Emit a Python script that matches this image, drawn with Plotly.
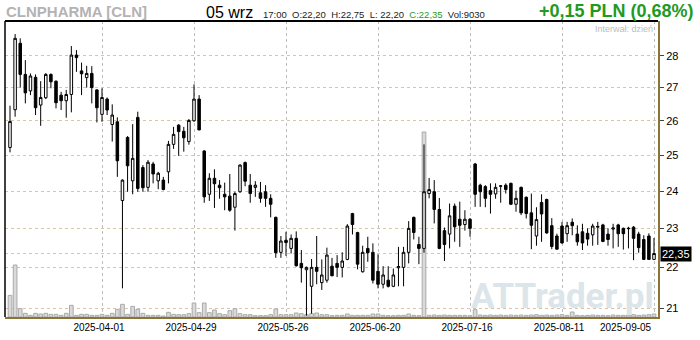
import math
import pandas as pd
import plotly.graph_objects as go

# ---------------- data ----------------
holidays = ["2025-04-18", "2025-04-21", "2025-05-01", "2025-06-19", "2025-08-15"]
dates = [d.strftime("%Y-%m-%d") for d in pd.bdate_range("2025-03-06", "2025-09-05")
         if d.strftime("%Y-%m-%d") not in holidays]

opens = [
    25.22, 26.33, 28.40, 27.41, 26.90, 27.32, 26.47, 26.69, 27.41, 27.20,
    26.77, 26.60, 26.79, 28.02, 27.52, 27.31, 27.44, 26.93, 26.19, 26.65,
    25.89, 25.97, 23.74, 25.51, 24.28, 26.10, 24.65, 24.10, 24.75, 24.28,
    24.30, 24.53, 25.31, 25.87, 25.69, 25.39, 26.00, 26.65, 25.12, 23.91,
    24.35, 24.16, 23.91, 23.86, 23.56, 23.98, 24.79, 24.16, 24.10, 23.95,
    23.98, 23.80, 23.29, 22.38, 22.69, 22.48, 22.74, 22.10, 21.94, 21.53,
    22.00, 21.62, 21.68, 22.03, 22.10, 22.00, 22.20, 23.39, 22.89, 21.89,
    22.48, 22.38, 21.90, 21.58, 21.68, 21.53, 21.99, 22.00, 22.38, 23.29,
    22.58, 22.48, 23.93, 23.98, 23.50, 22.94, 22.85, 23.59, 23.24, 23.10,
    23.24, 24.75, 24.16, 24.12, 24.01, 23.92, 24.13, 24.16, 24.21, 23.64,
    24.10, 23.83, 23.41, 22.80, 23.69, 23.77, 23.07, 22.80, 23.06, 22.86,
    23.16, 22.85, 22.91, 22.87, 22.83, 23.03, 23.09, 22.85, 22.98, 23.09,
    23.00, 22.99, 23.03, 22.85, 22.71, 22.80, 22.20]
highs = [
    26.45, 28.70, 28.56, 27.86, 27.44, 27.41, 27.20, 27.45, 27.44, 27.22,
    26.87, 26.93, 28.31, 28.18, 27.78, 27.68, 27.67, 26.95, 26.98, 26.70,
    26.49, 26.10, 24.32, 25.55, 25.90, 26.27, 24.72, 24.86, 24.81, 24.53,
    24.39, 25.41, 25.82, 25.90, 25.82, 26.05, 27.10, 26.77, 25.14, 24.49,
    24.60, 24.30, 24.23, 24.47, 23.98, 24.74, 24.82, 24.47, 24.27, 24.25,
    24.16, 23.91, 23.31, 22.80, 22.91, 22.84, 22.92, 22.44, 22.02, 22.21,
    22.80, 22.20, 22.50, 22.24, 22.31, 22.38, 23.11, 23.41, 22.91, 22.55,
    22.78, 22.61, 22.33, 22.03, 22.03, 21.97, 22.52, 22.52, 23.19, 23.31,
    22.78, 25.31, 24.36, 24.30, 23.81, 23.02, 23.66, 23.66, 23.71, 23.48,
    23.27, 24.78, 24.20, 24.16, 24.21, 24.21, 24.16, 24.21, 24.23, 24.01,
    24.12, 23.85, 23.93, 23.56, 23.91, 23.79, 23.27, 22.86, 23.17, 23.17,
    23.26, 23.08, 23.12, 23.00, 23.12, 23.17, 23.12, 23.00, 23.12, 23.12,
    23.02, 23.04, 23.06, 22.91, 22.82, 22.87, 22.75]
lows = [
    25.08, 26.12, 27.00, 26.52, 26.77, 26.17, 25.85, 26.65, 26.98, 26.37,
    26.32, 26.09, 26.25, 27.49, 26.77, 27.00, 26.52, 25.95, 25.97, 26.17,
    25.39, 24.39, 21.48, 23.98, 23.91, 23.98, 23.98, 23.98, 24.21, 24.05,
    24.02, 24.21, 25.18, 24.98, 25.10, 25.30, 25.97, 25.72, 23.68, 23.73,
    23.54, 23.79, 23.48, 23.44, 22.94, 23.95, 24.13, 23.68, 23.84, 23.68,
    23.57, 23.29, 22.24, 22.24, 22.29, 22.35, 22.02, 21.62, 20.82, 20.87,
    21.58, 21.44, 21.62, 21.78, 21.76, 21.75, 22.18, 22.84, 21.95, 21.87,
    22.14, 21.60, 21.48, 21.48, 21.50, 21.51, 21.53, 21.53, 22.10, 22.71,
    22.08, 22.37, 23.80, 23.13, 22.46, 22.16, 22.48, 22.65, 22.52, 22.94,
    22.78, 23.57, 23.57, 23.56, 23.39, 23.79, 23.68, 23.93, 23.62, 23.44,
    23.35, 23.26, 22.46, 22.55, 22.65, 22.86, 22.46, 22.46, 22.60, 22.65,
    22.82, 22.55, 22.44, 22.55, 22.55, 22.57, 22.64, 22.55, 22.48, 22.52,
    22.45, 22.48, 22.18, 22.37, 22.20, 22.20, 22.20]
closes = [
    25.98, 28.56, 27.41, 26.84, 27.36, 26.39, 26.70, 27.41, 27.18, 26.54,
    26.60, 26.79, 28.02, 27.94, 27.43, 27.44, 27.00, 26.39, 26.70, 26.32,
    26.17, 24.84, 24.30, 24.70, 24.91, 24.07, 24.09, 24.80, 24.47, 24.49,
    24.04, 25.31, 25.60, 25.68, 25.50, 26.01, 26.65, 25.73, 23.84, 24.35,
    24.20, 24.09, 23.84, 23.48, 23.93, 24.72, 24.27, 23.93, 24.16, 23.80,
    23.80, 23.64, 22.37, 22.67, 22.63, 22.74, 22.04, 21.99, 22.00, 22.00,
    21.90, 21.81, 22.31, 21.79, 22.00, 22.16, 23.06, 23.10, 22.08, 22.38,
    22.37, 21.68, 21.58, 21.81, 21.53, 21.81, 22.02, 22.38, 23.00, 22.89,
    22.48, 23.98, 24.04, 23.50, 22.48, 22.58, 23.33, 23.04, 23.08, 23.24,
    23.00, 23.91, 23.98, 23.80, 23.91, 24.10, 24.14, 24.04, 23.64, 23.80,
    23.41, 23.39, 23.08, 23.23, 23.38, 22.88, 22.53, 22.46, 22.62, 23.07,
    23.07, 22.65, 22.62, 22.72, 23.06, 23.05, 22.66, 22.71, 23.01, 22.86,
    22.86, 23.00, 22.74, 22.50, 22.20, 22.20, 22.35]
volumes = [
    65000, 156000, 25000, 11000, 5000, 11000, 9000, 11000, 8000, 8000,
    5000, 11000, 35000, 5000, 8000, 8000, 5000, 5000, 8000, 5000,
    11000, 23000, 38000, 8000, 32000, 23000, 11000, 5000, 5000, 5000,
    3000, 14000, 8000, 7000, 7000, 10000, 42000, 13000, 42000, 13000,
    21000, 10000, 7000, 19000, 25000, 10000, 7000, 7000, 4000, 4000,
    4000, 7000, 24000, 7000, 7000, 7000, 12000, 10000, 7000, 10000,
    12000, 7000, 7000, 4000, 5000, 5000, 9000, 5000, 5000, 5000,
    5000, 9000, 9000, 5000, 4000, 4000, 5000, 5000, 9000, 5000,
    4000, 555000, 5000, 6000, 5000, 6000, 5000, 5000, 5000, 5000,
    4000, 22000, 6000, 5000, 6000, 5000, 6000, 5000, 6000, 5000,
    6000, 5000, 6000, 7000, 5000, 6000, 5000, 6000, 7000, 5000,
    15000, 5000, 4000, 5000, 6000, 5000, 5000, 4000, 6000, 5000,
    5000, 6000, 7000, 5000, 6000, 7000, 9030]

tick_dates = ["2025-04-01", "2025-04-29", "2025-05-26", "2025-06-20",
              "2025-07-16", "2025-08-11", "2025-09-05"]
price_ticks = [21, 22, 23, 24, 25, 26, 27, 28]
last_close = 22.35
last_close_label = "22,35"

assert len(dates) == len(opens) == len(highs) == len(lows) == len(closes) == len(volumes) == 127

# ---------------- styling ----------------
OLIVE = "#8a7436"
GREEN = "#1f9a22"
FONT = "Liberation Sans"

fig = go.Figure()

fig.add_trace(go.Bar(
    x=dates, y=volumes, yaxis="y", width=0.72,
    marker=dict(color="#dadada", line=dict(color="#a9a9a9", width=1)),
    showlegend=False, hoverinfo="skip"))

fig.add_trace(go.Candlestick(
    x=dates, open=opens, high=highs, low=lows, close=closes, yaxis="y2",
    increasing=dict(fillcolor="#ffffff", line=dict(color="#000000", width=1)),
    decreasing=dict(fillcolor="#000000", line=dict(color="#000000", width=1)),
    whiskerwidth=0, showlegend=False))

n = len(dates)
fig.update_layout(
    width=700, height=340, autosize=False,
    margin=dict(l=5, r=42, t=21, b=23, pad=0),
    paper_bgcolor="white", plot_bgcolor="white",
    showlegend=False,
    bargap=0.3,
    xaxis=dict(
        type="category", range=[-0.98, n - 1 + 0.78],
        rangeslider=dict(visible=False),
        tickvals=tick_dates, ticktext=tick_dates[:-1] + [""],
        showgrid=True, gridcolor="#bdbdbd", griddash="dot", gridwidth=1,
        ticks="", showline=True, linecolor=OLIVE, linewidth=2,
        ticklabelshift=-3,
        tickfont=dict(family=FONT, size=10, color="#000"),
        zeroline=False),
    yaxis=dict(range=[0, 888000], visible=False, showgrid=False, fixedrange=True),
    yaxis2=dict(
        overlaying="y", side="right", type="log",
        range=[math.log10(20.79), math.log10(29.13)],
        tickvals=price_ticks, ticktext=[str(t) for t in price_ticks],
        showgrid=True, gridcolor="#d6c6a4", griddash="dot", gridwidth=1,
        ticks="outside", ticklen=4, tickcolor="#444",
        showline=True, linecolor=OLIVE, linewidth=2,
        tickfont=dict(family=FONT, size=11, color="#000"),
        zeroline=False),
)

# frame: black top and left edges
fig.add_shape(type="line", xref="paper", yref="paper", x0=0, x1=1, y0=1, y1=1,
              line=dict(color="#000", width=2))
fig.add_shape(type="line", xref="paper", yref="paper", x0=0, x1=0, y0=0, y1=1,
              line=dict(color="#000", width=1.5))
# last close dotted line
fig.add_shape(type="line", xref="paper", yref="y2", x0=0, x1=1, y0=last_close, y1=last_close,
              line=dict(color="#d6c6a4", width=1, dash="dot"), layer="below")

# last-close label on the axis
fig.add_annotation(xref="paper", yref="y2", x=1, y=math.log10(last_close),
                   xanchor="left", yanchor="middle", xshift=2, showarrow=False,
                   text=last_close_label, bgcolor="#000", borderpad=1,
                   font=dict(family=FONT, size=11, color="#fff"))

# last date label, kept inside the plot width
fig.add_annotation(xref="x", yref="paper", x=tick_dates[-1], y=0, xanchor="right",
                   yanchor="top", yshift=-3, showarrow=False, text=tick_dates[-1],
                   font=dict(family=FONT, size=10, color="#000"))

# watermark
fig.add_annotation(xref="paper", yref="paper", x=1, y=0.07, xanchor="right", yanchor="middle",
                   xshift=-2, showarrow=False, text="<b>ATTrader.pl</b>",
                   font=dict(family="Roboto", size=35, color="#dbe5ea"))

# interval label
fig.add_annotation(xref="paper", yref="paper", x=1, y=1, xanchor="right", yanchor="top",
                   xshift=-3, yshift=-1, showarrow=False, text="Interwał: dzień",
                   font=dict(family=FONT, size=9, color="#bdbdbd"))

# header
fig.add_annotation(xref="paper", yref="paper", x=0, y=1, xanchor="left", yanchor="middle",
                   xshift=-1, yshift=10, showarrow=False, text="<b>CLNPHARMA [CLN]</b>",
                   font=dict(family=FONT, size=15, color="#b3b3b3"))
fig.add_annotation(xref="paper", yref="paper", x=0, y=1, xanchor="left", yanchor="middle",
                   xshift=199, yshift=9, showarrow=False, text="05 wrz",
                   font=dict(family=FONT, size=16, color="#000"))
fig.add_annotation(xref="paper", yref="paper", x=0, y=1, xanchor="left", yanchor="middle",
                   xshift=256, yshift=7, showarrow=False,
                   text=("17:00  O:22,20  H:22,75  L: 22,20  "
                         f"<span style='color:{GREEN}'>C:22,35</span>  Vol:9030"),
                   font=dict(family=FONT, size=9.5, color="#222"))
fig.add_annotation(xref="paper", yref="paper", x=1, y=1, xanchor="right", yanchor="middle",
                   xshift=38, yshift=10, showarrow=False, text="<b>+0,15 PLN (0,68%)</b>",
                   font=dict(family=FONT, size=18, color=GREEN))

fig.write_html("out.html")
